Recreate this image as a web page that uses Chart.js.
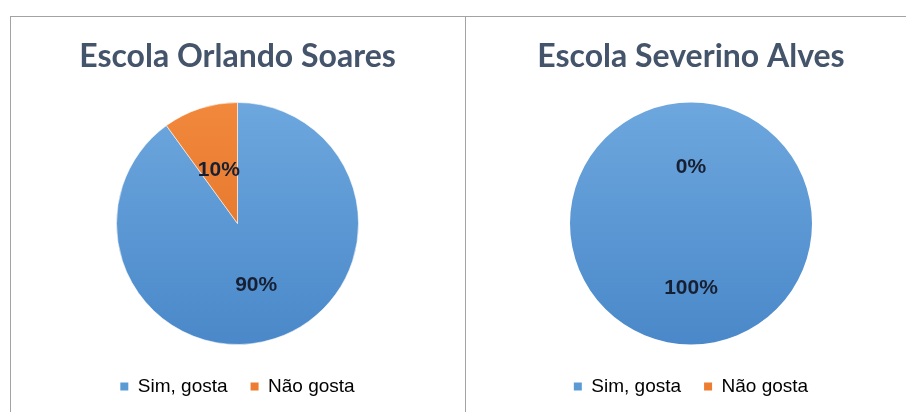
<!DOCTYPE html>
<html>
<head>
<meta charset="utf-8">
<script src="https://cdn.jsdelivr.net/npm/chart.js@4.4.0/dist/chart.umd.min.js"></script>
<style>
	body{margin:0;background:#fff;width:906px;height:412px;overflow:hidden;position:relative;}
	.linha{position:absolute;background:#a3a3a3;}
	canvas{position:absolute;top:17px;}
</style>
</head>
<body>
<div class="linha" style="left:10px;top:16px;width:896px;height:1px;"></div>
<div class="linha" style="left:10px;top:16px;width:1px;height:396px;"></div>
<div class="linha" style="left:465px;top:16px;width:1px;height:396px;"></div>
<canvas id="grafico_orlando" width="453" height="395" style="left:11px;"></canvas>
<canvas id="grafico_severino" width="450" height="395" style="left:466px;"></canvas>
<script>
var categorias = ["Sim, gosta", "Não gosta"];
var escolas = ["Escola Orlando Soares", "Escola Severino Alves"];
var valores_orlando = [90, 10];
var valores_severino = [100, 0];

var cores_topo = ["#6da7de", "#f2883b"];
var cores_base = ["#4a88c9", "#dc6f25"];
var cores_legenda = ["#5b9bd5", "#ed7d31"];
var raio_pizza = 121;

// rótulos de porcentagem no meio de cada fatia
var plugin_rotulos = {
	id: "rotulos_porcentagem",
	afterDatasetsDraw: function(chart){
		var ctx = chart.ctx;
		var meta = chart.getDatasetMeta(0);
		var valores = chart.data.datasets[0].data;
		ctx.save();
		ctx.font = "bold 21px 'Liberation Sans', Arial, sans-serif";
		ctx.fillStyle = "#172033";
		ctx.textAlign = "center";
		ctx.textBaseline = "middle";
		$each(meta.data, function(i, arco){
			var pos = arco.tooltipPosition();
			// o "middle" do canvas fica um pouco acima do centro visual dos algarismos
			ctx.fillText(valores[i] + "%", pos.x, pos.y + 4);
		});
		ctx.restore();
	}
};

function $each(lista, fn){
	for (var i = 0; i < lista.length; i++) fn(i, lista[i]);
}

function cor_fatia(context){
	var i = context.dataIndex;
	var chart = context.chart;
	var area = chart.chartArea;
	if (!area) return cores_legenda[i];
	var cy = (area.top + area.bottom) / 2;
	var grad = chart.ctx.createLinearGradient(0, cy - raio_pizza, 0, cy + raio_pizza);
	grad.addColorStop(0, cores_topo[i]);
	grad.addColorStop(1, cores_base[i]);
	return grad;
}

function grafico_pizza(canvas_id, titulo, valores){
	var tem_zero = valores.indexOf(0) >= 0;
	new Chart(document.getElementById(canvas_id), {
		type: "pie",
		data: {
			labels: categorias,
			datasets: [{
				data: valores,
				backgroundColor: cor_fatia,
				borderColor: "rgba(255,255,255,0.55)",
				borderWidth: tem_zero ? 0 : 1
			}]
		},
		options: {
			responsive: false,
			animation: false,
			devicePixelRatio: 1,
			radius: raio_pizza,
			layout: { padding: { bottom: 6 } },
			plugins: {
				tooltip: { enabled: false },
				title: {
					display: true,
					text: titulo,
					color: "#44546a",
					font: { family: "Lato, 'Open Sans', sans-serif", weight: "bold", size: 32 },
					padding: { top: 20, bottom: 17.6 }
				},
				legend: {
					position: "bottom",
					labels: {
						boxWidth: 8,
						boxHeight: 8,
						padding: 23,
						color: "#404040",
						font: { family: "'Liberation Sans', Arial, sans-serif", size: 19 },
						generateLabels: function(chart){
							var itens = [];
							$each(categorias, function(i, nome){
								itens.push({
									text: nome,
									fillStyle: cores_legenda[i],
									strokeStyle: cores_legenda[i],
									lineWidth: 0,
									hidden: false,
									index: i
								});
							});
							return itens;
						}
					}
				}
			}
		},
		plugins: [plugin_rotulos]
	});
}

grafico_pizza("grafico_orlando", escolas[0], valores_orlando);
grafico_pizza("grafico_severino", escolas[1], valores_severino);
</script>
</body>
</html>
